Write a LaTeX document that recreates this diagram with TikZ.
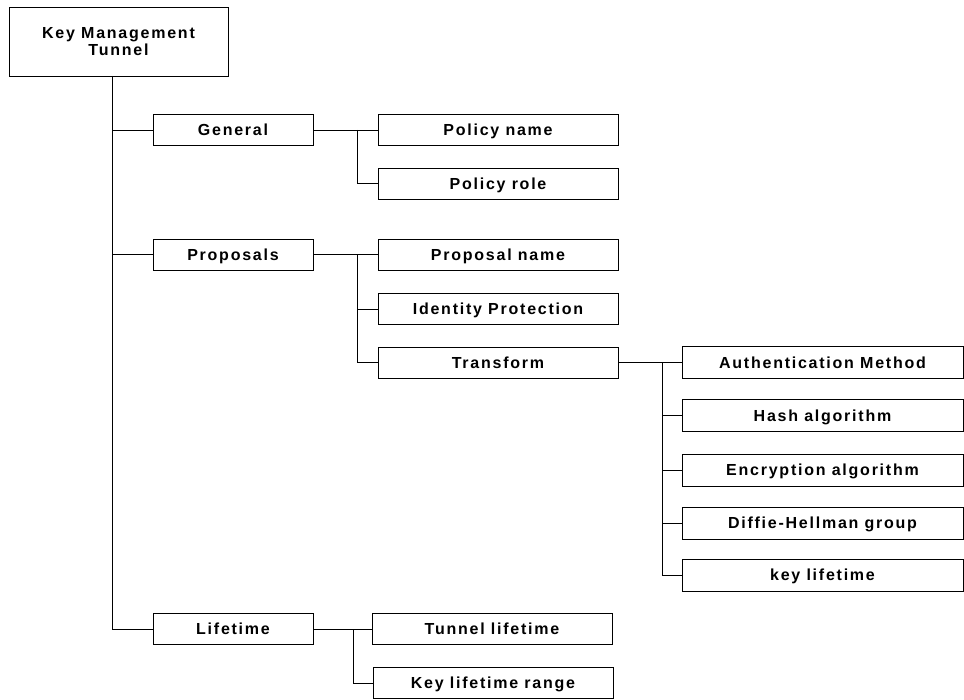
\documentclass[tikz,border=0pt]{standalone}
\usepackage{fontspec}
\setmainfont{Liberation Sans}[LetterSpace=11]
\begin{document}
\begin{tikzpicture}[x=1pt,y=-1pt,line width=0.9pt,
  lbl/.style={font=\bfseries\fontsize{16}{17}\selectfont},
  box/.style={draw,lbl,inner sep=0pt,text height=11.5pt,text depth=0pt},
  lvlone/.style={box,minimum width=160pt,minimum height=31pt},
  lvltwo/.style={box,minimum width=240pt,minimum height=31pt},
  lvlthree/.style={box,minimum width=281pt,minimum height=32pt}]
\useasboundingbox (0,0) rectangle (964,700);
\node[draw,lbl,align=center,minimum width=219pt,minimum height=69pt] (root) at (118.5,41.5) {Key Management\\Tunnel};
\node[lvlone] (general) at (233,130) {General};
\node[lvlone] (proposals) at (233,254.5) {Proposals};
\node[lvlone] (lifetime) at (233,629) {Lifetime};
\node[lvltwo] (pname) at (498,130) {Policy name};
\node[lvltwo] (prole) at (498,183.5) {Policy role};
\node[lvltwo] (propname) at (498,254.5) {Proposal name};
\node[lvltwo] (identity) at (498,309) {Identity Protection};
\node[lvltwo] (transform) at (498,362.5) {Transform};
\node[lvltwo] (tunnellife) at (492,629) {Tunnel lifetime};
\node[lvltwo] (keyrange) at (493,683) {Key lifetime range};
\node[lvlthree] (auth) at (822.5,362.5) {Authentication Method};
\node[lvlthree] (hash) at (822.5,415.5) {Hash algorithm};
\node[lvlthree] (encr) at (822.5,470) {Encryption algorithm};
\node[lvlthree] (dh) at (822.5,523) {Diffie-Hellman group};
\node[lvlthree] (keylife) at (822.5,575) {key lifetime};
% trunk from the root
\coordinate (trunk) at (112,76);
\draw (trunk) |- (lifetime.west);
\draw (general.west) -- (general.west -| trunk);
\draw (proposals.west) -- (proposals.west -| trunk);
% branches
\coordinate (gbr) at (357,130);
\draw (general.east) -- (pname.west);
\draw (gbr) |- (prole.west);
\coordinate (pbr) at (357,254.5);
\draw (proposals.east) -- (propname.west);
\draw (pbr) |- (transform.west);
\draw (identity.west) -- (identity.west -| pbr);
\coordinate (lbr) at (353,629);
\draw (lifetime.east) -- (tunnellife.west);
\draw (lbr) |- (keyrange.west);
\coordinate (tbr) at (662,362.5);
\draw (transform.east) -- (auth.west);
\draw (tbr) |- (keylife.west);
\foreach \n in {hash,encr,dh}
  \draw (\n.west) -- (\n.west -| tbr);
\end{tikzpicture}
\end{document}
